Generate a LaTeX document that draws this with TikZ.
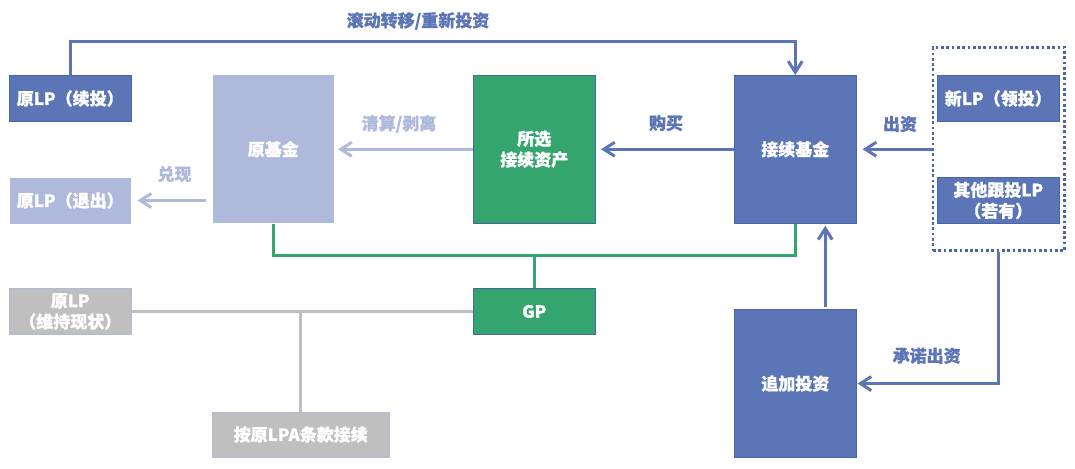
\documentclass[tikz,border=0pt]{standalone}
\usepackage{fontspec}
\setmainfont{Noto Sans CJK SC}[BoldFeatures={FakeBold=0.8}]
\usepackage{tikz}
\usetikzlibrary{arrows.meta, positioning, calc}
\definecolor{BLU}{HTML}{5C75B7}
\definecolor{LBL}{HTML}{AFB9DC}
\definecolor{GRN}{HTML}{34A56F}
\definecolor{GRY}{HTML}{BFBFBF}
\definecolor{EDG}{HTML}{4A64A8}
\tikzset{
  BOX/.style={% Common settings of every box
      rectangle,
      anchor=north west,
      align=center,
      inner sep=0pt,
      line width=1pt,
      text=white,
      font=\fontsize{17}{21}\selectfont\bfseries,
  },
  NOR/.style={BOX, fill=BLU, draw=EDG},% dark blue boxes
  OLD/.style={BOX, fill=LBL},% faded boxes of the old fund
  SEL/.style={BOX, fill=GRN, draw=EDG},% green boxes
  KEEP/.style={BOX, fill=GRY, draw=LBL},% grey boxes
  small/.style={minimum width=121.5pt, minimum height=46pt},
  tall/.style={minimum width=121.5pt, minimum height=147.5pt},
  flow/.style={% arrows between the boxes
      line width=3pt, draw=#1,
      -{Straight Barb[length=11pt, width=14pt]},
  },
  link/.style={line width=3pt, draw=#1},
  lbl/.style={font=\fontsize{17}{21}\selectfont\bfseries, text=#1},
}

\begin{document}
\begin{tikzpicture}[x=1pt, y=-1pt]
    \useasboundingbox (0,0) rectangle (1075,468);
    % left column
    \node[NOR, small] (lpcont) at (9,75) {原LP（续投）};
    \node[OLD, small] (lpexit) at (9,177) {原LP（退出）};
    \node[KEEP, small] (lpkeep) at (9,288) {原LP\\（维持现状）};
    % middle
    \node[OLD, tall] (oldfund) at (212,75) {原基金};
    \node[SEL, tall] (asset) at (473,75) {所选\\接续资产};
    \node[SEL, small] (gp) at (473,288) {GP};
    \node[KEEP, minimum width=176.5pt, minimum height=45pt] (lpa) at (212,411.5) {按原LPA条款接续};
    % right
    \node[NOR, tall] (contfund) at (734,75) {接续基金};
    \node[NOR, tall] (addinv) at (734,309.3) {追加投资};
    \node[BOX, draw=EDG, line width=2.7pt, dash pattern=on 2.7pt off 2.6pt,
      minimum width=131.6pt, minimum height=203.3pt] (lpgroup) at (931.7,46) {};
    \node[NOR, small] (newlp) at (937,75) {新LP（领投）};
    \node[NOR, small] (otherlp) at (937,177) {其他跟投LP\\（若有）};

    % connectors
    \draw[flow=BLU] (lpcont.north) -- ++(0,-33.3) -| (contfund.north);
    \node[lbl=BLU] (rolltxt) at (418,21) {滚动转移/重新投资};
    \draw[flow=LBL, shorten >=3.5pt] (asset.west) -- (oldfund.east);
    \node[lbl=LBL] (cleartxt) at (399,124) {清算/剥离};
    \draw[flow=LBL, shorten >=6pt, shorten <=6pt] (oldfund.west |- lpexit.east) -- (lpexit.east);
    \node[lbl=LBL] (cashtxt) at (174.5,174) {兑现};
    \draw[flow=BLU, shorten >=5.5pt] (contfund.west) -- (asset.east);
    \node[lbl=BLU] (buytxt) at (666,123) {购买};
    \draw[flow=BLU, shorten >=6pt] (lpgroup.west |- contfund.east) -- (contfund.east);
    \node[lbl=BLU] (paytxt) at (900,124) {出资};
    \draw[flow=BLU, shorten >=2.3pt, shorten <=2.6pt] ([xshift=30pt]addinv.north) -- ([xshift=30pt]contfund.south);
    \draw[flow=BLU, shorten >=1pt] (lpgroup.south) |- (addinv.east);
    \node[lbl=BLU] (committxt) at (926.7,355.7) {承诺出资};
    % GP links
    \coordinate (bus) at (0,255);
    \draw[link=GRN] (oldfund.south) |- (bus -| contfund.south) -- (contfund.south);
    \draw[link=GRN] (gp.north) -- (gp.north |- bus);
    \draw[link=GRY, line width=2.7pt] (lpkeep.east) -- (gp.west);
    \draw[link=GRY, line width=2.7pt] (lpa.north) -- (lpa.north |- lpkeep.east);
\end{tikzpicture}
\end{document}
